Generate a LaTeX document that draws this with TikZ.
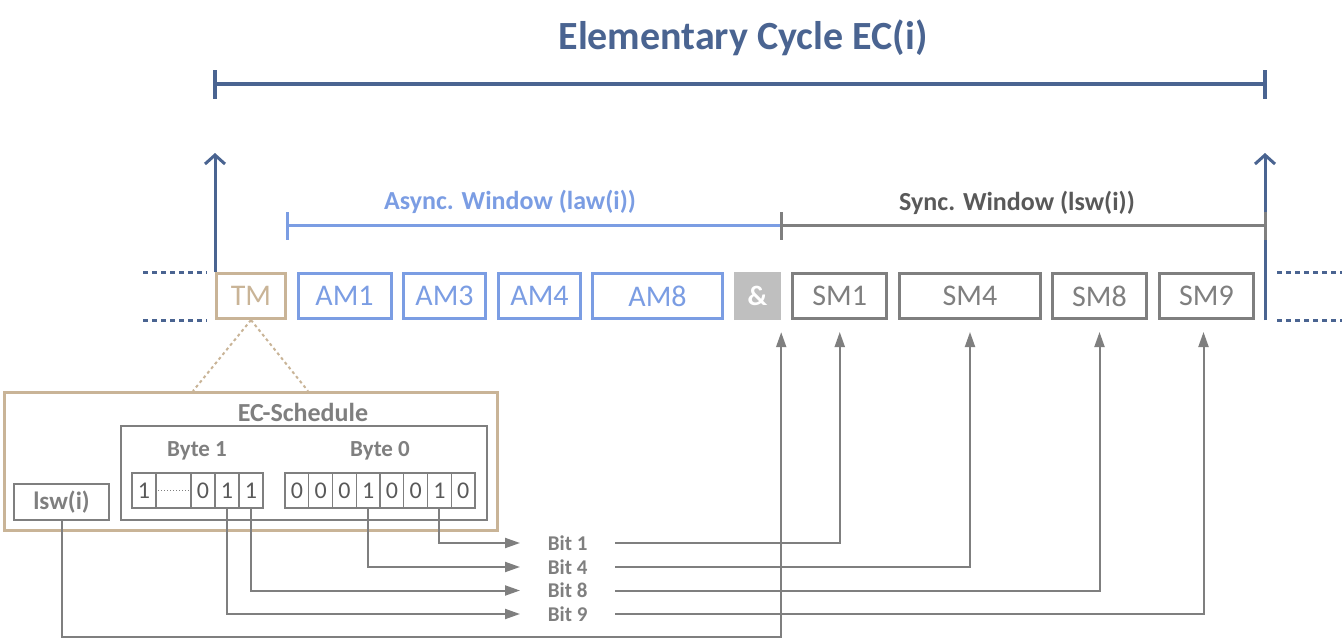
\documentclass[tikz,border=0pt]{standalone}
\usepackage{fontspec}
\setmainfont{Carlito}
\usetikzlibrary{arrows.meta}
\definecolor{dblue}{HTML}{4A6491}
\definecolor{lblue}{HTML}{7B9DE3}
\definecolor{gbox}{HTML}{7F7F7F}
\definecolor{gtxt}{HTML}{595959}
\definecolor{tanc}{HTML}{C9B497}
\definecolor{ampfill}{HTML}{BFBFBF}
\begin{document}
\begin{tikzpicture}[x=1pt,y=-1pt,
  slot/.style={draw, line width=3pt, minimum height=45pt, inner sep=0pt, font=\fontsize{30}{36}\selectfont},
  amslot/.style={slot, draw=lblue, text=lblue},
  smslot/.style={slot, draw=gbox, text=gbox},
  cell/.style={draw=gbox, line width=1.2pt, minimum height=35pt, inner sep=0pt, font=\fontsize{24}{28}\selectfont, text=gtxt},
  conn/.style={draw=gbox, line width=2pt},
  tip/.style={-{Triangle[length=15pt,width=10pt]}},
  bitlbl/.style={anchor=west, minimum width=95pt, minimum height=18pt, inner sep=0pt, text=gbox, font=\bfseries\fontsize{21}{24}\selectfont},
  lbl/.style={anchor=base, inner sep=0pt, font=\bfseries\fontsize{26}{30}\selectfont},
  dots/.style={line width=3pt, dash pattern=on 5pt off 4pt}
]
\useasboundingbox (0,0) rectangle (1342,640);

% title and cycle span
\node[lbl, text=dblue, font=\bfseries\fontsize{40}{48}\selectfont] (title) at (743,49) {Elementary Cycle EC(i)};
\draw[dblue, line width=3.5pt] (215,70) -- (215,99) (215,84) -- (1265,84) (1265,70) -- (1265,99);

% slots
\node[slot, draw=tanc, text=tanc, minimum width=69pt] (tm) at (251,296) {TM};
\node[amslot, minimum width=93pt] (am1) at (344.5,296) {AM1};
\node[amslot, minimum width=82pt] (am3) at (444.5,296) {AM3};
\node[amslot, minimum width=82pt] (am4) at (539.5,296) {AM4};
\node[amslot, minimum width=130pt] (am8) at (657.5,296) {AM8};
\node[fill=ampfill, minimum width=47pt, minimum height=48pt, inner sep=0pt, text=white, font=\bfseries\fontsize{28}{32}\selectfont] (amp) at (757.5,296) {\&};
\node[smslot, minimum width=94pt] (sm1) at (839.75,296) {SM1};
\node[smslot, minimum width=141pt] (sm4) at (970,296) {SM4};
\node[smslot, minimum width=94pt] (sm8) at (1099.5,296) {SM8};
\node[smslot, minimum width=94pt] (sm9) at (1206.5,296) {SM9};

% dotted continuation lines
\draw[dblue, dots] (143,272) -- (207,272) (143,320) -- (207,320);
\draw[dblue, dots] (1277,272) -- (1342,272) (1277,320) -- (1342,320);

% up arrows
\draw[dblue, line width=3pt, -{Straight Barb[length=9pt,width=20pt]}] (tm.north west) -- (215,153);
\coordinate (rbot) at (1265,320);
\draw[dblue, line width=3pt, -{Straight Barb[length=9pt,width=20pt]}] (rbot) -- (1265,153);

% windows
\node[lbl, text=lblue] (async) at (510,209) {Async. Window (law(i))};
\draw[lblue, line width=3pt] (287,212) -- (287,240) (287,225.5) -- (781,225.5);
\node[lbl, text=gtxt] (sync) at (1017,210.5) {Sync. Window (lsw(i))};
\draw[gbox, line width=3pt] (781,225.5) -- (1265,225.5) (781,212) -- (781,240) (1265,212) -- (1265,240);

% EC-Schedule box
\node[draw=tanc, line width=3.5pt, minimum width=493pt, minimum height=138pt, inner sep=0pt] (ecbox) at (251,461.5) {};
\coordinate (tl) at (193,391);
\coordinate (tr) at (308,391);
\draw[tanc, line width=2pt, dash pattern=on 3pt off 3pt] (tm.south) -- (tl) (tm.south) -- (tr);
\node[lbl, text=gbox, font=\bfseries\fontsize{26}{30}\selectfont] (ecs) at (303,421) {EC-Schedule};
\node[draw=gbox, line width=1.5pt, minimum width=366pt, minimum height=94pt, inner sep=0pt] (inner) at (304,473) {};
\node[lbl, text=gbox, font=\bfseries\fontsize{23}{27}\selectfont] (byte1) at (197,456) {Byte 1};
\node[lbl, text=gbox, font=\bfseries\fontsize{23}{27}\selectfont] (byte0) at (380,456) {Byte 0};
\node[draw=gbox, line width=1.5pt, minimum width=95pt, minimum height=36pt, inner sep=0pt, text=gbox, font=\bfseries\fontsize{25}{30}\selectfont] (lsw) at (61.5,502) {lsw(i)};

% byte 1 cells
\node[cell, minimum width=24pt] (b1c1) at (144,490.5) {1};
\node[cell, minimum width=35pt] (b1c2) at (173.5,490.5) {};
\node[cell, minimum width=24pt] (b1c3) at (203,490.5) {0};
\node[cell, minimum width=24pt] (b1c4) at (227,490.5) {1};
\node[cell, minimum width=24pt] (b1c5) at (251,490.5) {1};
\draw[gbox, line width=1pt, dotted] (b1c2.west) -- (b1c2.east);
% byte 0 cells
\foreach \i/\v/\x in {1/0/296.9, 2/0/320.6, 3/0/344.4, 4/1/368.1, 5/0/391.9, 6/0/415.6, 7/1/439.4, 8/0/463.1}
  \node[cell, minimum width=23.75pt] (b0c\i) at (\x,490.5) {\v};

% bit labels
\node[bitlbl] (bit1) at (520,543) {Bit 1};
\node[bitlbl] (bit4) at (520,567) {Bit 4};
\node[bitlbl] (bit8) at (520,590.5) {Bit 8};
\node[bitlbl] (bit9) at (520,614) {Bit 9};

% connectors
\draw[conn, tip] (b0c7.south) |- (bit1.west);
\draw[conn, tip] (b0c4.south) |- (bit4.west);
\draw[conn, tip] (b1c5.south) |- (bit8.west);
\draw[conn, tip] (b1c4.south) |- (bit9.west);
\draw[conn, tip] (bit1.east) -| ([yshift=-12pt]sm1.south);
\draw[conn, tip] (bit4.east) -| ([yshift=-12pt]sm4.south);
\draw[conn, tip] (bit8.east) -| ([yshift=-12pt]sm8.south);
\draw[conn, tip] (bit9.east) -| ([yshift=-12pt,xshift=-3pt]sm9.south);
\coordinate (lswy) at (0,636.5);
\draw[conn, tip] (lsw.south) -- (lsw.south |- lswy) -| ([yshift=-12pt]amp.south east);
\end{tikzpicture}
\end{document}
